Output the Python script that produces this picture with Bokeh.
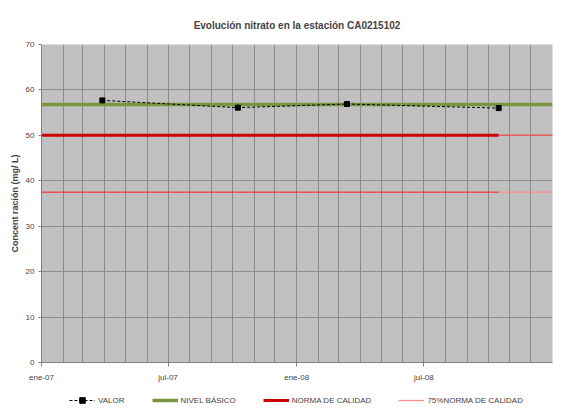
import pandas as pd
from bokeh.plotting import figure
from bokeh.layouts import column
from bokeh.models import FixedTicker, Legend, LegendItem, Range1d
from bokeh.embed import file_html
from bokeh.resources import INLINE

# ---- data ----
fechas = ["2007-03-29", "2007-10-09", "2008-03-13", "2008-10-16"]
valor = [57.7, 56.1, 56.9, 56.0]
nivel_basico = 56.8
norma_calidad = 50.0
norma_75 = 37.5
x_inicio = "2007-01-01"
x_fin = "2009-01-01"
etiquetas_fechas = ["2007-01-01", "2007-07-01", "2008-01-01", "2008-07-01"]
etiquetas_textos = ["ene-07", "jul-07", "ene-08", "jul-08"]
y_ticks = [0, 10, 20, 30, 40, 50, 60, 70]
series = ["VALOR", "NIVEL BÁSICO", "NORMA DE CALIDAD", "75%NORMA DE CALIDAD"]


def ms(d):
    return int(pd.Timestamp(d).value // 1_000_000)


x0, x1 = ms(x_inicio), ms(x_fin)
xs = [ms(d) for d in fechas]
x_last = xs[-1]
meses = [ms(d) for d in pd.date_range(x_inicio, x_fin, freq="MS")]

FONT = "Liberation Sans"
C_NIVEL = "#77963f"
C_NORMA = "#cc0000"
C_75 = "#ff1a1a"
C_75_TAIL = "#ff8c8c"


def draw_series(fig):
    r = {}
    r["75"] = fig.line([x0, x_last], [norma_75, norma_75], line_color=C_75, line_width=1)
    r["75t"] = fig.line([x_last, x1], [norma_75, norma_75], line_color=C_75_TAIL, line_width=1.3)
    r["norma"] = fig.line([x0, x_last], [norma_calidad, norma_calidad], line_color=C_NORMA, line_width=3)
    r["normat"] = fig.line([x_last, x1], [norma_calidad, norma_calidad], line_color="#e85a5a", line_width=1.5)
    r["nivel"] = fig.line([x0, x1], [nivel_basico, nivel_basico], line_color=C_NIVEL, line_width=3.5)
    r["vl"] = fig.line(xs, valor, line_color="black", line_width=1, line_dash="3 2")
    r["vm"] = fig.scatter(xs, valor, marker="square", size=5, color="black")
    return r


p = figure(width=560, height=384, output_backend="svg", toolbar_location=None,
           x_range=Range1d(x0, x1), y_range=Range1d(0, 70),
           min_border_left=41, min_border_right=8, min_border_top=44,
           min_border_bottom=22, title="Evolución nitrato en la estación CA0215102")

p.title.align = "center"
p.title.text_font = FONT
p.title.text_font_size = "10px"
p.title.text_font_style = "bold"
p.title.offset = -5
p.title.standoff = 27

p.background_fill_color = "#c0c0c0"
p.border_fill_color = "white"
p.outline_line_color = None

# grids
p.xgrid[0].ticker = FixedTicker(ticks=meses)
p.xgrid[0].grid_line_color = "#8c8c8c"
p.xgrid[0].grid_line_width = 1
p.ygrid[0].ticker = FixedTicker(ticks=y_ticks)
p.ygrid[0].grid_line_color = "#8c8c8c"
p.ygrid[0].grid_line_width = 1

# axes
xa = p.xaxis[0]
xa.ticker = FixedTicker(ticks=[ms(d) for d in etiquetas_fechas])
xa.major_label_overrides = {ms(d): t for d, t in zip(etiquetas_fechas, etiquetas_textos)}
xa.major_tick_out = 4
xa.major_tick_in = 0
xa.minor_tick_out = 0
xa.minor_tick_in = 0
xa.axis_line_color = "#808080"
xa.major_tick_line_color = "#808080"
xa.major_label_text_font = FONT
xa.major_label_text_font_size = "8px"
xa.major_label_standoff = 6

ya = p.yaxis[0]
ya.ticker = FixedTicker(ticks=y_ticks)
ya.major_tick_out = 3
ya.major_tick_in = 0
ya.minor_tick_out = 0
ya.minor_tick_in = 0
ya.axis_line_color = "#808080"
ya.major_tick_line_color = "#808080"
ya.major_label_text_font = FONT
ya.major_label_text_font_size = "8px"
ya.major_label_standoff = 4
ya.axis_label = "Concent ración (mg/ L)"
ya.axis_label_text_font = FONT
ya.axis_label_text_font_size = "9px"
ya.axis_label_text_font_style = "bold"
ya.axis_label_standoff = 3

draw_series(p)

# ---- legend strip (separate figure below; same series, outside its visible y range) ----
lg = figure(width=560, height=28, output_backend="svg", toolbar_location=None,
            x_range=Range1d(x0, x1), y_range=Range1d(-2, -1),
            x_axis_location=None, y_axis_location=None, min_border=0)
lg.outline_line_color = None
lg.xgrid.visible = False
lg.ygrid.visible = False
rl = draw_series(lg)

legend = Legend(items=[
    LegendItem(label=series[0], renderers=[rl["vl"], rl["vm"]]),
    LegendItem(label=series[1], renderers=[rl["nivel"]]),
    LegendItem(label=series[2], renderers=[rl["norma"]]),
    LegendItem(label=series[3], renderers=[rl["75t"]]),
], orientation="horizontal", location=(28, 5))
legend.label_text_font = FONT
legend.label_text_font_size = "8px"
legend.glyph_width = 26
legend.glyph_height = 14
legend.label_standoff = 3
legend.spacing = 27
legend.padding = 4
legend.margin = 0
legend.border_line_color = None
legend.background_fill_alpha = 0
lg.add_layout(legend)

layout = column(p, lg, spacing=0)
open("out.html", "w").write(file_html(layout, INLINE))
